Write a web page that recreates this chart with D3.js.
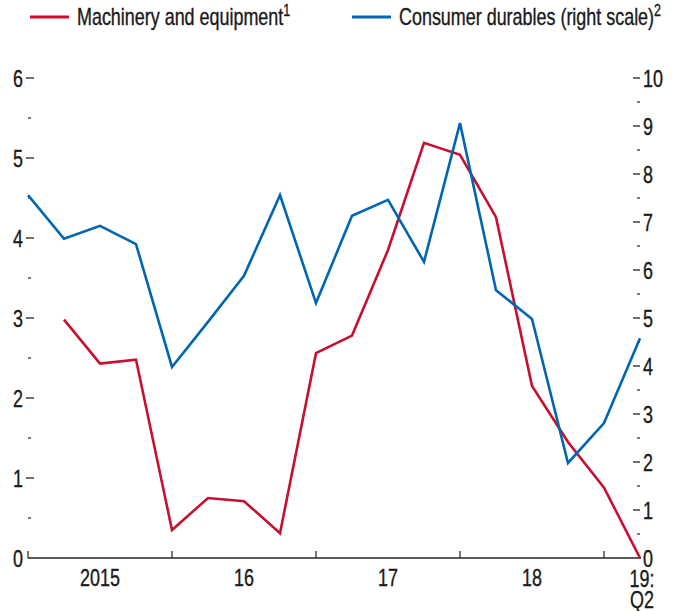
<!DOCTYPE html>
<head>
    <meta charset="utf-8">
    <style>
        body { margin: 0; background: #fff; }
        text { font-family: "Liberation Sans", Arial, sans-serif; fill: #1a1a1a; stroke: #1a1a1a; stroke-width: 0.35px; }
    </style>
    <script src="https://d3js.org/d3.v7.min.js"></script>
</head>
<body>
    <div id="chart"></div>
    <script>
        const quarters = ["2015Q1","2015Q2","2015Q3","2015Q4","2016Q1","2016Q2","2016Q3","2016Q4",
                          "2017Q1","2017Q2","2017Q3","2017Q4","2018Q1","2018Q2","2018Q3","2018Q4",
                          "2019Q1","2019Q2"];
        const machinery = [null, 2.98, 2.43, 2.48, 0.35, 0.75, 0.71, 0.31, 2.56, 2.78, 3.85, 5.19, 5.04, 4.26, 2.15, 1.45, 0.88, 0.0];
        const durables = [7.56, 6.65, 6.92, 6.54, 3.98, 4.92, 5.88, 7.56, 5.31, 7.13, 7.46, 6.17, 9.06, 5.58, 4.98, 1.98, 2.81, 4.58];
        const yearLabels = ["2015", "16", "17", "18"];
        const leftTicks = [0, 1, 2, 3, 4, 5, 6];
        const rightTicks = [0, 1, 2, 3, 4, 5, 6, 7, 8, 9, 10];

        const red = "#c8102e";
        const blue = "#0066b3";
        const width = 683, height = 611;
        const fs = 23, squeeze = 0.78;   // condensed look

        const svg = d3.select("#chart").append("svg")
            .attr("width", width)
            .attr("height", height);

        const x = d3.scaleLinear().domain([0, quarters.length - 1]).range([28, 640]);
        const yL = d3.scaleLinear().domain([0, 6]).range([558, 78]);
        const yR = d3.scaleLinear().domain([0, 10]).range([558, 78]);

        function place(sel, fx, fy) {
            return sel.attr("transform", (d, i) => "translate(" + fx(d, i) + "," + fy(d, i) + ") scale(" + squeeze + ",1)")
                .attr("font-size", fs);
        }

        // left scale ticks
        const halfL = d3.range(0.5, 6, 1);
        svg.selectAll(".lminor").data(halfL).enter().append("line")
            .attr("x1", 28).attr("x2", 31)
            .attr("y1", d => yL(d)).attr("y2", d => yL(d))
            .attr("stroke", "#222").attr("stroke-width", 1.2);
        svg.selectAll(".lmajor").data(leftTicks.filter(d => d > 0)).enter().append("line")
            .attr("x1", 26).attr("x2", 34)
            .attr("y1", d => yL(d)).attr("y2", d => yL(d))
            .attr("stroke", "#222").attr("stroke-width", 1.3);
        place(svg.selectAll(".llab").data(leftTicks).enter().append("text")
            .attr("text-anchor", "end")
            .text(d => d), () => 23, d => yL(d) + 8.5);

        // right scale ticks
        const halfR = d3.range(0.5, 10, 1);
        svg.selectAll(".rminor").data(halfR).enter().append("line")
            .attr("x1", 637).attr("x2", 640)
            .attr("y1", d => yR(d)).attr("y2", d => yR(d))
            .attr("stroke", "#222").attr("stroke-width", 1.2);
        svg.selectAll(".rmajor").data(rightTicks.filter(d => d > 0)).enter().append("line")
            .attr("x1", 633).attr("x2", 640)
            .attr("y1", d => yR(d)).attr("y2", d => yR(d))
            .attr("stroke", "#222").attr("stroke-width", 1.3);
        place(svg.selectAll(".rlab").data(rightTicks).enter().append("text")
            .text(d => d), () => 643, d => yR(d) + 8.5);

        // x axis
        svg.append("line")
            .attr("x1", x(0)).attr("x2", x(quarters.length - 1) + 1)
            .attr("y1", yL(0)).attr("y2", yL(0))
            .attr("stroke", "#222").attr("stroke-width", 1.5);
        const yearTicks = quarters.map((q, i) => i).filter(i => quarters[i].endsWith("Q1"));
        svg.selectAll(".xtick").data(yearTicks).enter().append("line")
            .attr("x1", d => x(d)).attr("x2", d => x(d))
            .attr("y1", yL(0) - 7).attr("y2", yL(0))
            .attr("stroke", "#222").attr("stroke-width", 1.2);
        place(svg.selectAll(".xlab").data(yearLabels).enter().append("text")
            .attr("text-anchor", "middle")
            .text(d => d), (d, i) => x(yearTicks[i] + 2), () => 586);
        const last = x(quarters.length - 1) + 2;
        place(svg.append("text").attr("text-anchor", "middle").text("19:"), () => last, () => 587);
        place(svg.append("text").attr("text-anchor", "middle").text("Q2"), () => last, () => 608);

        // lines
        const lineL = d3.line()
            .defined(d => d != null)
            .x((d, i) => x(i)).y(d => yL(d));
        const lineR = d3.line()
            .x((d, i) => x(i)).y(d => yR(d));

        svg.append("path").datum(machinery)
            .attr("d", lineL)
            .attr("fill", "none").attr("stroke", red)
            .attr("stroke-width", 2.6).attr("stroke-linejoin", "miter");
        svg.append("path").datum(durables)
            .attr("d", lineR)
            .attr("fill", "none").attr("stroke", blue)
            .attr("stroke-width", 2.6).attr("stroke-linejoin", "miter");

        // legend
        const legend = [
            { name: "Machinery and equipment", sup: "1", color: red, x: 30 },
            { name: "Consumer durables (right scale)", sup: "2", color: blue, x: 352 }
        ];
        const lg = svg.selectAll(".lg").data(legend).enter().append("g");
        lg.append("line")
            .attr("x1", d => d.x).attr("x2", d => d.x + 39)
            .attr("y1", 17).attr("y2", 17)
            .attr("stroke", d => d.color).attr("stroke-width", 3);
        const lt = place(lg.append("text"), d => d.x + 47, () => 25);
        lt.append("tspan").text(d => d.name);
        lt.append("tspan").attr("dy", -9).attr("font-size", 16).text(d => d.sup);
    </script>
</body>
